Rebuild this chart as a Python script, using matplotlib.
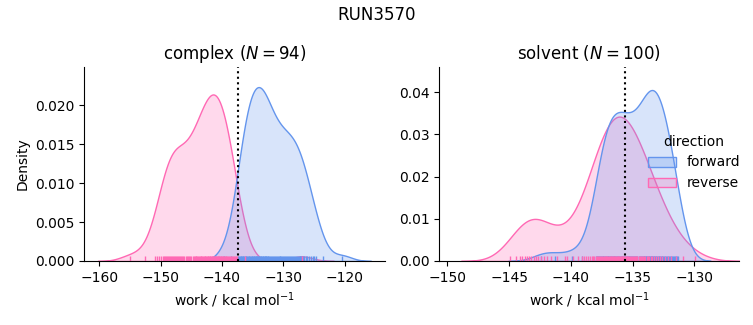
import pandas as pd
import seaborn as sns
from matplotlib import pyplot as plt

run_name = 'RUN3570'
phases = ['complex', 'solvent']
n_cycles = [94, 100]
free_energy = [-137.36, -135.62]
directions = ['forward', 'reverse']
colors = ['cornflowerblue', 'hotpink']

complex_forward = [
    -139.60, -138.50,
    -137.34, -137.22, -137.10, -136.98, -136.86, -136.74, -136.62, -136.50, -136.38, -136.26,
    -136.14, -136.02, -135.90, -135.78, -135.66, -135.54, -135.42, -135.30, -135.18, -135.06,
    -134.95, -134.84, -134.74, -134.64, -134.53, -134.43, -134.32, -134.22, -134.11, -134.01,
    -133.91, -133.80, -133.70, -133.59, -133.49, -133.39, -133.28, -133.18, -133.07, -132.97,
    -132.86, -132.76, -132.66, -132.55,
    -132.43, -132.28, -132.13, -131.98, -131.83, -131.68, -131.53, -131.38, -131.23, -131.08,
    -130.93, -130.78, -130.63, -130.48, -130.33, -130.18, -130.03, -129.88, -129.73, -129.58,
    -129.42, -129.26, -129.11, -128.95, -128.79, -128.63, -128.47, -128.32, -128.16, -128.00,
    -127.84, -127.68, -127.53, -127.37, -127.21, -127.05, -126.89, -126.74, -126.58,
    -126.36, -126.07, -125.79, -125.50, -125.21, -124.93, -124.64,
    -123.60, -120.40]

complex_reverse = [
    -155.00, -152.60,
    -150.85, -150.55, -150.25, -149.95, -149.65,
    -149.42, -149.27, -149.11, -148.95, -148.80, -148.64, -148.48, -148.33, -148.17, -148.02,
    -147.86, -147.70, -147.55, -147.39, -147.23, -147.08,
    -146.90, -146.71, -146.52, -146.33, -146.13, -145.94, -145.75, -145.56, -145.37, -145.17,
    -144.98, -144.79, -144.60,
    -144.43, -144.30, -144.17, -144.03, -143.90, -143.77, -143.63, -143.50, -143.37, -143.23,
    -143.10, -142.97, -142.83, -142.70, -142.57,
    -142.45, -142.34, -142.23, -142.13, -142.02, -141.91, -141.80, -141.70, -141.59, -141.48,
    -141.38, -141.27, -141.16, -141.05, -140.95, -140.84, -140.73, -140.63, -140.52, -140.41,
    -140.30, -140.20, -140.09, -139.98, -139.88, -139.77, -139.66, -139.55,
    -139.42, -139.27, -139.12, -138.96, -138.81, -138.65, -138.50, -138.35, -138.19, -138.04,
    -137.88, -137.73, -137.58,
    -136.30, -127.00]

solvent_forward = [
    -142.40, -141.30, -139.90, -139.10,
    -137.92, -137.85, -137.78, -137.71, -137.64, -137.57, -137.50, -137.43, -137.36, -137.29,
    -137.22, -137.16, -137.09, -137.02, -136.95, -136.88, -136.81, -136.74, -136.67, -136.60,
    -136.53,
    -136.46, -136.39, -136.32, -136.25, -136.18, -136.11, -136.04, -135.96, -135.89, -135.82,
    -135.75, -135.68, -135.61, -135.54, -135.46, -135.39, -135.32, -135.25, -135.18, -135.11,
    -135.04,
    -134.96, -134.87, -134.78, -134.69, -134.60, -134.51, -134.42, -134.33, -134.24,
    -134.17, -134.11, -134.05, -133.99, -133.93, -133.88, -133.82, -133.76, -133.70, -133.64,
    -133.58, -133.53, -133.47, -133.45, -133.41, -133.35, -133.29, -133.23, -133.18, -133.12,
    -133.06, -133.00, -132.94, -132.88, -132.82, -132.77, -132.71, -132.65, -132.59, -132.53,
    -132.46, -132.38, -132.30, -132.22, -132.14, -132.06, -131.98, -131.90, -131.82, -131.74,
    -131.66, -131.58, -131.50, -131.42, -131.34]

solvent_reverse = [
    -144.89, -144.41, -144.13, -143.92, -143.72, -143.54, -143.37, -143.19, -143.01, -142.82,
    -142.62, -142.41, -142.17, -141.90, -141.57, -141.13, -140.32,
    -140.50, -139.78, -139.40, -139.13, -138.92, -138.74, -138.58, -138.44, -138.32, -138.20,
    -138.09, -137.99, -137.89, -137.80, -137.71, -137.63, -137.55, -137.47, -137.39, -137.32,
    -137.25, -137.18, -137.11, -137.04, -136.97, -136.91, -136.84, -136.78, -136.71, -136.65,
    -136.59, -136.53, -136.46, -136.40,
    -136.34, -136.27, -136.21, -136.15, -136.08, -136.02, -135.95, -135.89, -135.82, -135.75,
    -135.69, -135.62, -135.55, -135.48, -135.42, -135.35, -135.28, -135.20, -135.13, -135.06,
    -134.98, -134.91, -134.83, -134.75, -134.67, -134.60, -134.51, -134.43, -134.34, -134.25,
    -134.16, -134.06, -133.96, -133.86, -133.75, -133.64, -133.52, -133.39, -133.26, -133.11,
    -132.96, -132.79, -132.60, -132.39, -132.14, -131.85, -131.48, -130.95, -129.93]

x_limits = [(-162.4, -113.5), (-150.65, -126.34)]
y_limits = [(0, 0.0249), (0, 0.046)]


def monta_tabela():
    partes = []
    amostras = {('complex', 'forward'): complex_forward,
                ('complex', 'reverse'): complex_reverse,
                ('solvent', 'forward'): solvent_forward,
                ('solvent', 'reverse'): solvent_reverse}
    for (fase, direcao), valores in amostras.items():
        partes.append(pd.DataFrame({'work': valores, 'direction': direcao, 'phase': fase}))
    return pd.concat(partes, ignore_index=True)


def main():
    df = monta_tabela()
    g = sns.displot(data=df, x='work', hue='direction', col='phase', kind='kde',
                    fill=True, rug=True, hue_order=directions, col_order=phases,
                    palette=colors, facet_kws=dict(sharex=False, sharey=False))
    fig = g.figure
    fig.set_size_inches(7.53, 3.25)
    fig.subplots_adjust(left=0.1122, right=0.982, bottom=0.197, top=0.794, wspace=0.182)

    for i, ax in enumerate(g.axes.flat):
        ax.axvline(free_energy[i], color='k', ls=':', lw=1.5)
        ax.set_title(f'{phases[i]} ($N = {n_cycles[i]}$)')
        ax.set_xlim(*x_limits[i])
        ax.set_ylim(*y_limits[i])
        ax.set_xlabel('work / kcal mol$^{-1}$')
    g.axes.flat[0].set_ylabel('Density')
    g.axes.flat[1].set_ylabel('')

    sns.move_legend(g, 'center right', bbox_to_anchor=(1.0, 0.5), frameon=False)
    fig.suptitle(run_name)
    fig.savefig('out.png', dpi=100)


if __name__ == "__main__":
    main()
